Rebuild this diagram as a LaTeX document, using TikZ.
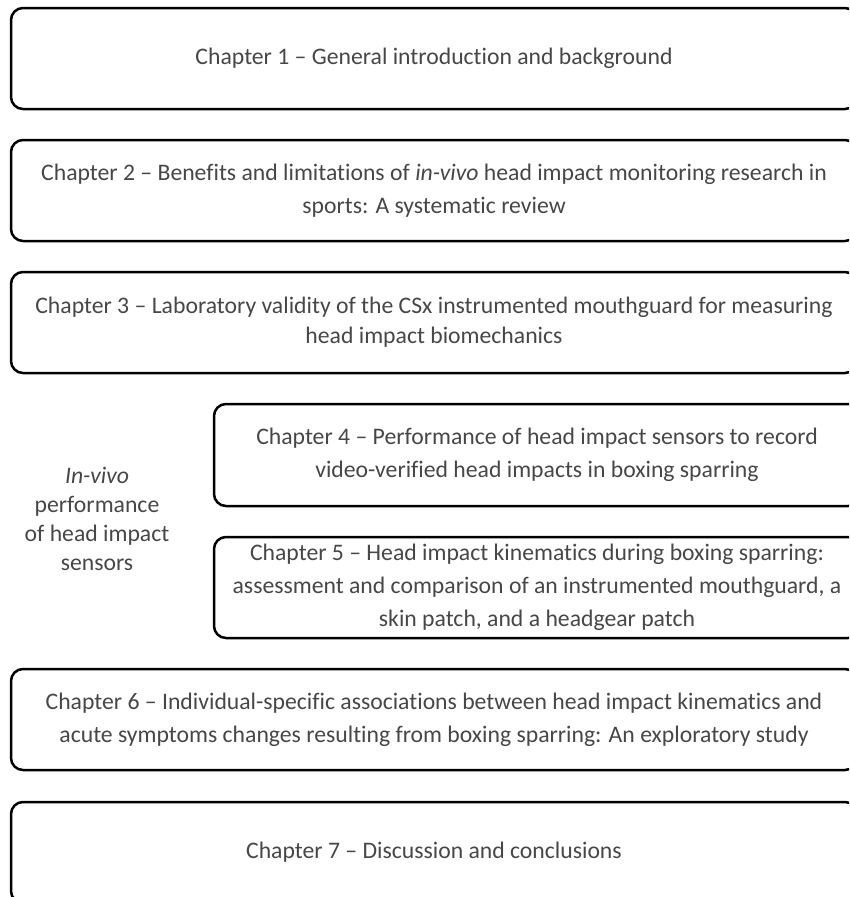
\documentclass[tikz,border=0pt]{standalone}
\usepackage{fontspec}
\setmainfont{Carlito}[Ligatures={NoCommon}]
\begin{document}
\begin{tikzpicture}[x=1pt,y=-1pt,
  chapbox/.style={draw=black, line width=2.5pt, rounded corners=12pt, fill=white,
    align=center, inner sep=0pt, text=black!72,
    font=\fontsize{23.7}{33}\selectfont},
  sidelabel/.style={align=center, inner sep=0pt, text=black!72,
    font=\fontsize{23.7}{29}\selectfont}]
\useasboundingbox (0,0) rectangle (849,897);
\clip (0,0) rectangle (849,897);
\node[chapbox, minimum width=846pt, minimum height=101pt] (c1) at (434,58.5)
  {Chapter 1 – General introduction and background};
\node[chapbox, minimum width=846pt, minimum height=101pt] (c2) at (434,190.5)
  {Chapter 2 – Benefits and limitations of \textit{in-vivo} head impact monitoring research in\\ sports: A systematic review};
\node[chapbox, minimum width=846pt, minimum height=101pt,
  font=\fontsize{23.7}{30}\selectfont] (c3) at (434,322.5)
  {Chapter 3 – Laboratory validity of the CSx instrumented mouthguard for measuring\\ head impact biomechanics};
\node[chapbox, minimum width=646pt, minimum height=102pt] (c4) at (537,455)
  {Chapter 4 – Performance of head impact sensors to record\\ video-verified head impacts in boxing sparring};
\node[chapbox, minimum width=646pt, minimum height=101pt] (c5) at (537,587.5)
  {Chapter 5 – Head impact kinematics during boxing sparring:\\ assessment and comparison of an instrumented mouthguard, a\\ skin patch, and a headgear patch};
\node[chapbox, minimum width=846pt, minimum height=101pt] (c6) at (434,719.5)
  {Chapter 6 – Individual-specific associations between head impact kinematics and\\ acute symptoms changes resulting from boxing sparring: An exploratory study};
\node[chapbox, minimum width=846pt, minimum height=101pt] (c7) at (434,852.5)
  {Chapter 7 – Discussion and conclusions};
\node[sidelabel] (side) at (97,519)
  {\textit{In-vivo}\\ performance\\ of head impact\\ sensors};
\end{tikzpicture}
\end{document}
